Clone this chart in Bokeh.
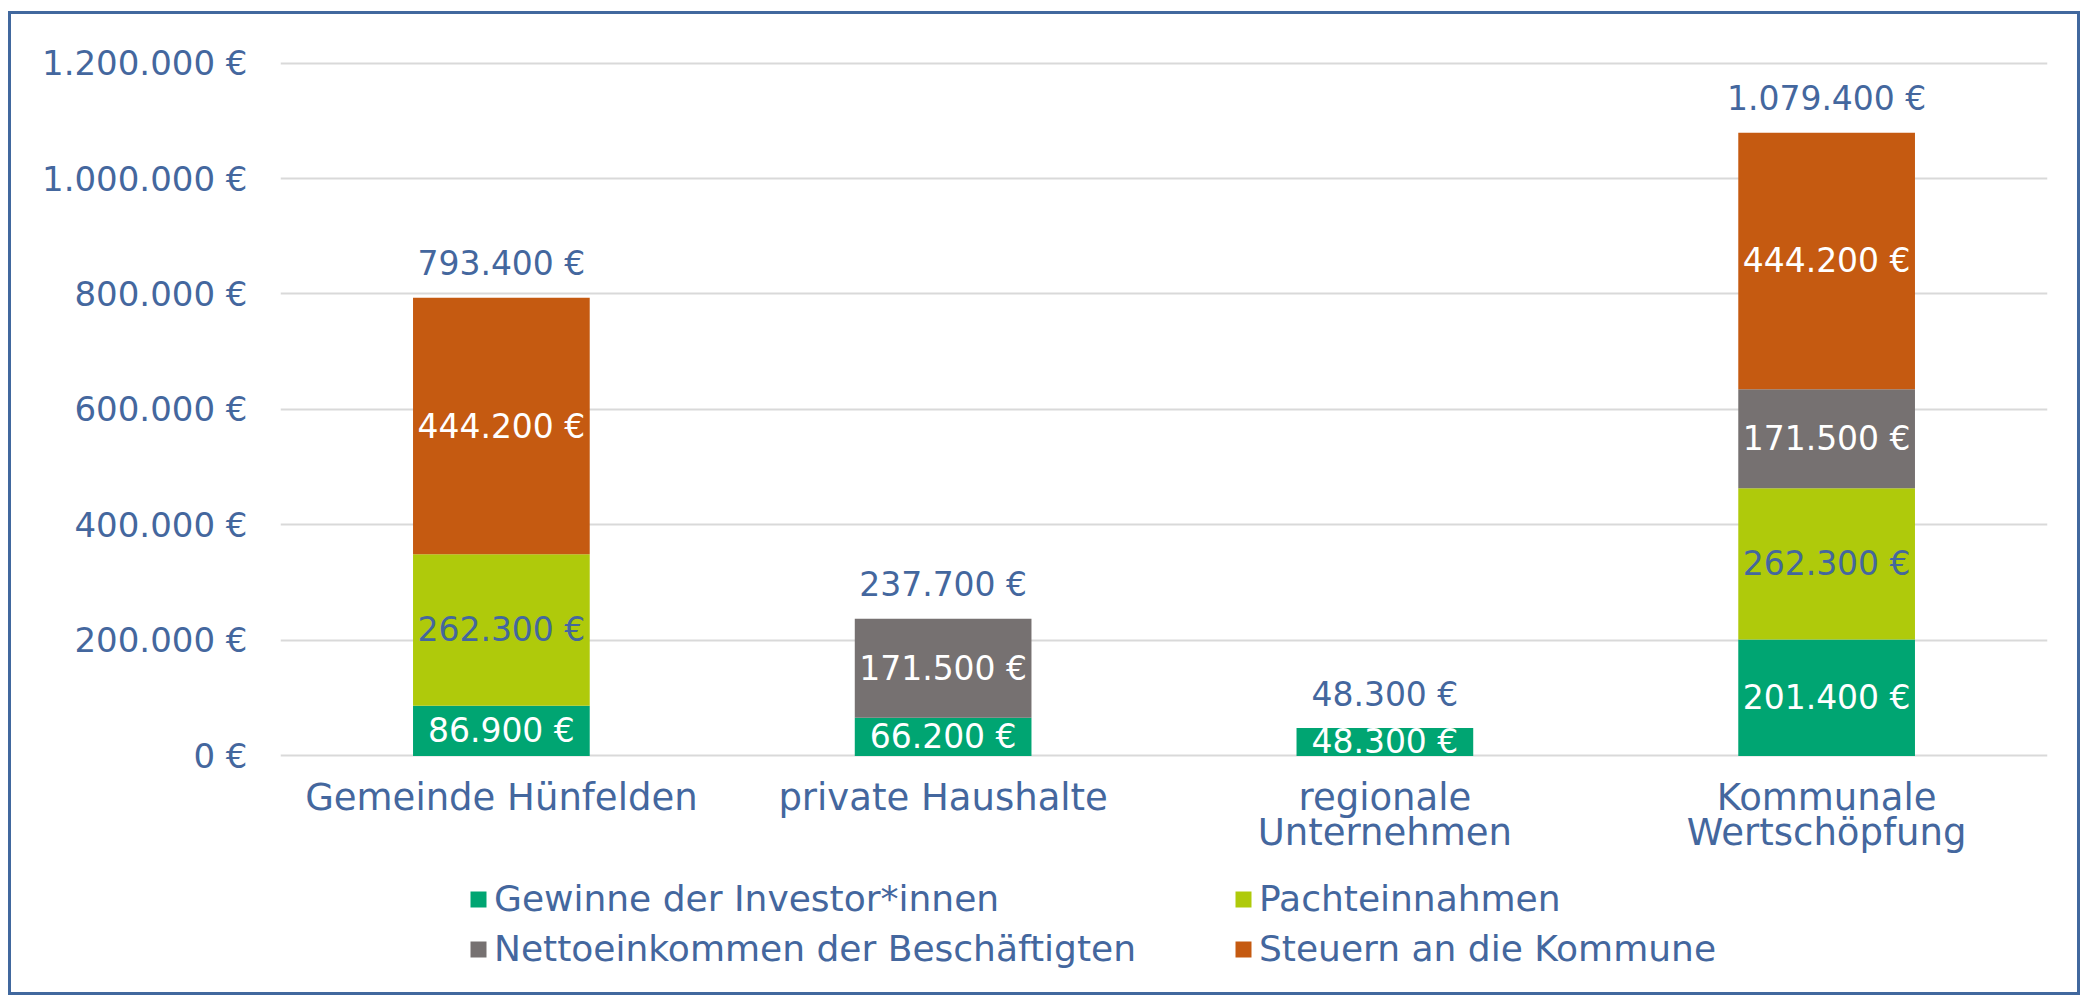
from bokeh.plotting import figure
from bokeh.models import ColumnDataSource, FactorRange, Range1d, FixedTicker, Legend, LegendItem
from bokeh.core.properties import value
from bokeh.embed import file_html
from bokeh.resources import INLINE

categories = ["Gemeinde Hünfelden", "private Haushalte", "regionale Unternehmen", "Kommunale Wertschöpfung"]
category_labels = ["Gemeinde Hünfelden", "private Haushalte", "regionale\nUnternehmen", "Kommunale\nWertschöpfung"]
series_names = ["Gewinne der Investor*innen", "Pachteinnahmen", "Nettoeinkommen der Beschäftigten", "Steuern an die Kommune"]
gewinne = [86900, 66200, 48300, 201400]
pacht = [262300, 0, 0, 262300]
netto = [0, 171500, 0, 171500]
steuern = [444200, 0, 0, 444200]
totals = [793400, 237700, 48300, 1079400]
y_ticks = [0, 200000, 400000, 600000, 800000, 1000000, 1200000]
y_tick_labels = ["0 €", "200.000 €", "400.000 €", "600.000 €", "800.000 €", "1.000.000 €", "1.200.000 €"]

colors = ["#00A572", "#AFCA0B", "#767171", "#C55A11"]
label_colors = ["#FFFFFF", "#44679E", "#FFFFFF", "#FFFFFF"]
TEXT = "#44679E"
FONT = "DejaVu Sans"


def fmt(v):
    return f"{v:,}".replace(",", ".") + " €"


keys = ["gewinne", "pacht", "netto", "steuern"]
src = ColumnDataSource(dict(cat=categories, gewinne=gewinne, pacht=pacht, netto=netto, steuern=steuern))

p = figure(
    x_range=FactorRange(*categories, range_padding=0),
    y_range=Range1d(-420200, 1220000),
    width=2072, height=984,
    output_backend="svg", toolbar_location=None,
    min_border_left=269, min_border_right=36, min_border_top=37, min_border_bottom=0,
)
p.styles = {"border": "3px solid #41689E", "margin-left": "8px", "margin-top": "11px"}

renderers = p.vbar_stack(keys, x="cat", width=0.4, color=colors, source=src, line_width=0)

# segment labels
all_series = [gewinne, pacht, netto, steuern]
lx, ly, lt, lc = [], [], [], []
for i, cat in enumerate(categories):
    base = 0
    for s, vals in enumerate(all_series):
        v = vals[i]
        if v > 0:
            lx.append(cat)
            ly.append(base + v / 2)
            lt.append(fmt(v))
            lc.append(label_colors[s])
        base += v
p.text(x=lx, y=ly, text=lt, text_color=lc, text_align="center", text_baseline="middle",
       text_font=value(FONT), text_font_size="33px")

# totals
p.text(x=categories, y=totals, text=[fmt(t) for t in totals], text_color=TEXT,
       text_align="center", text_baseline="middle", y_offset=-34,
       text_font=value(FONT), text_font_size="33px")

# category labels under the zero line
p.text(x=categories, y=[0] * len(categories), text=category_labels, text_color=TEXT,
       text_align="center", text_baseline="top", y_offset=20, text_line_height=0.82,
       text_font=value(FONT), text_font_size="37px")

p.outline_line_color = None
p.xgrid.grid_line_color = None
p.xaxis.visible = False
p.ygrid.ticker = FixedTicker(ticks=y_ticks)
p.ygrid.grid_line_color = "#D9D9D9"
p.ygrid.grid_line_width = 2

p.yaxis.ticker = FixedTicker(ticks=y_ticks)
p.yaxis.major_label_overrides = {t: l for t, l in zip(y_ticks, y_tick_labels)}
p.yaxis.axis_line_color = None
p.yaxis.major_tick_line_color = None
p.yaxis.minor_tick_line_color = None
p.yaxis.major_label_text_color = TEXT
p.yaxis.major_label_text_font = FONT
p.yaxis.major_label_text_font_size = "34px"
p.yaxis.major_label_standoff = 27

legend = Legend(
    items=[LegendItem(label=n, renderers=[r]) for n, r in zip(series_names, renderers)],
    location=(188, 29), orientation="horizontal", ncols=2,
    label_text_font=FONT, label_text_font_size="36px", label_text_color=TEXT,
    glyph_width=20, glyph_height=20, label_standoff=6, label_height=34, label_width=730,
    spacing=9, padding=0, margin=0, border_line_color=None, background_fill_alpha=0,
)
p.add_layout(legend, "center")

open("out.html", "w").write(file_html(p, INLINE))
